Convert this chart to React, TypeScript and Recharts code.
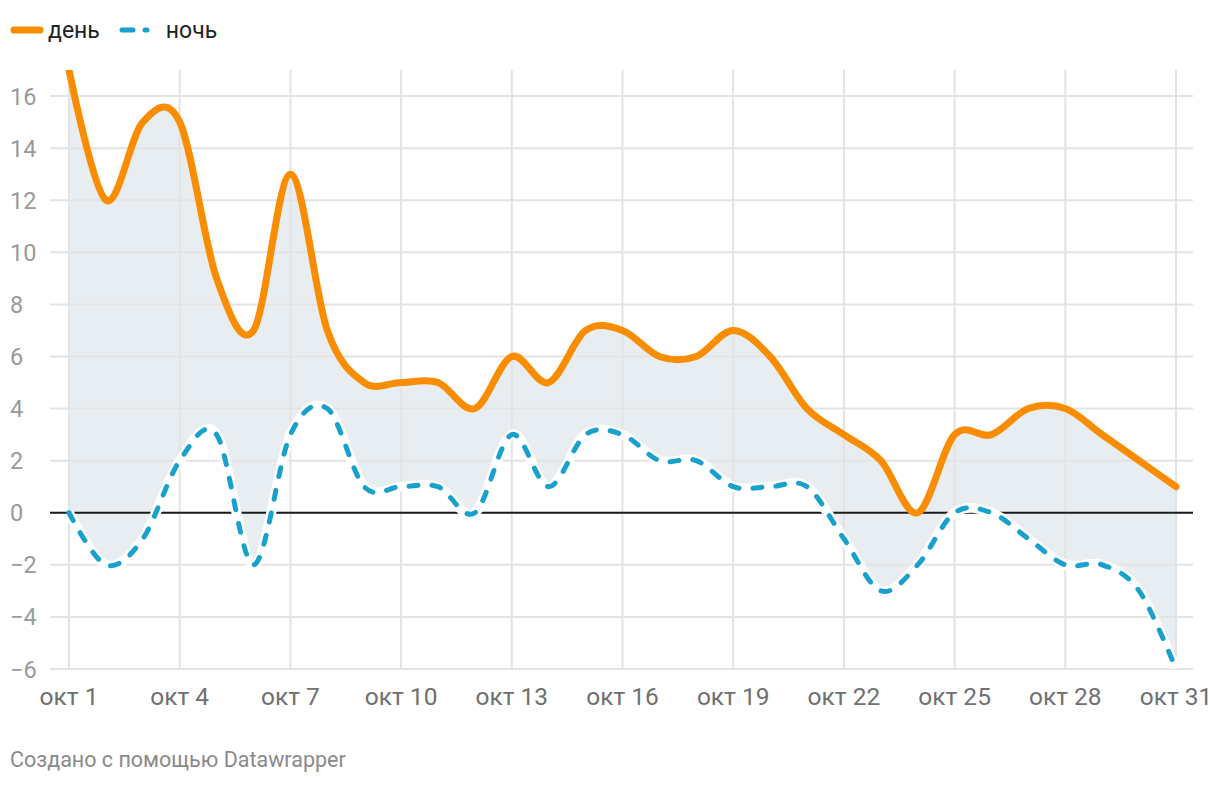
import React from "react";
import {
  Area,
  ComposedChart,
  Line,
  ReferenceLine,
  XAxis,
  YAxis,
} from "recharts";

const days = [1, 2, 3, 4, 5, 6, 7, 8, 9, 10, 11, 12, 13, 14, 15, 16, 17, 18, 19, 20, 21, 22, 23, 24, 25, 26, 27, 28, 29, 30, 31];
const dayTemps = [17, 12, 15, 15, 9, 7, 13, 7, 5, 5, 5, 4, 6, 5, 7, 7, 6, 6, 7, 6, 4, 3, 2, 0, 3, 3, 4, 4, 3, 2, 1];
const nightTemps = [0, -2, -1, 2, 3, -2, 3, 4, 1, 1, 1, 0, 3, 1, 3, 3, 2, 2, 1, 1, 1, -1, -3, -2, 0, 0, -1, -2, -2, -3, -6];
const xTicks = [1, 4, 7, 10, 13, 16, 19, 22, 25, 28, 31];
const yTicks = [-6, -4, -2, 0, 2, 4, 6, 8, 10, 12, 14, 16];

const ORANGE = "#fa8c00";
const BLUE = "#18a1cd";
const GRID = "#e3e3e3";
const FONT = "Roboto, 'Noto Sans', sans-serif";

const rows = days.map((d, i) => ({ day: d, dayT: dayTemps[i], nightT: nightTemps[i] }));

// d3-style cardinal spline (tension 0), Datawrapper draws its curves like this
class Cardinal {
  _context: any;
  _line = NaN;
  _point = 0;
  _x0 = NaN; _x1 = NaN; _x2 = NaN;
  _y0 = NaN; _y1 = NaN; _y2 = NaN;
  constructor(context: any) {
    this._context = context;
  }
  seg(x: number, y: number) {
    const k = 1 / 6;
    this._context.bezierCurveTo(
      this._x1 + k * (this._x2 - this._x0),
      this._y1 + k * (this._y2 - this._y0),
      this._x2 + k * (this._x1 - x),
      this._y2 + k * (this._y1 - y),
      this._x2,
      this._y2
    );
  }
  areaStart() { this._line = 0; }
  areaEnd() { this._line = NaN; }
  lineStart() {
    this._x0 = this._x1 = this._x2 = this._y0 = this._y1 = this._y2 = NaN;
    this._point = 0;
  }
  lineEnd() {
    switch (this._point) {
      case 2: this._context.lineTo(this._x2, this._y2); break;
      case 3: this.seg(this._x1, this._y1); break;
    }
    if (this._line || (this._line !== 0 && this._point === 1)) this._context.closePath();
    this._line = 1 - this._line;
  }
  point(x: number, y: number) {
    x = +x; y = +y;
    switch (this._point) {
      case 0:
        this._point = 1;
        if (this._line) this._context.lineTo(x, y);
        else this._context.moveTo(x, y);
        break;
      case 1:
        this._point = 2;
        this._x1 = x; this._y1 = y;
        break;
      case 2:
        this._point = 3;
        this.seg(x, y);
        break;
      default:
        this.seg(x, y);
        break;
    }
    this._x0 = this._x1; this._x1 = this._x2; this._x2 = x;
    this._y0 = this._y1; this._y1 = this._y2; this._y2 = y;
  }
}
const curveCardinal = (context: any) => new Cardinal(context);

function YTick({ y, payload }: any) {
  return (
    <text x={10} y={y} dy={8.5} textAnchor="start" fill="#9a9a9a" fontSize={23.5} fontFamily={FONT}>
      {String(payload.value).replace("-", "−")}
    </text>
  );
}

export default function App() {
  return (
    <div style={{ position: "absolute", left: 0, top: 0, width: 1220, height: 786, background: "#fff", fontFamily: FONT }}>
      <div style={{ position: "absolute", left: 10, top: 14, height: 32, display: "flex", alignItems: "center", fontSize: 23, color: "#222" }}>
        <svg width={34} height={10} style={{ marginRight: 4 }}>
          <line x1={4} y1={5} x2={30} y2={5} stroke={ORANGE} strokeWidth={7} strokeLinecap="round" />
        </svg>
        <span>день</span>
        <svg width={44} height={10} style={{ marginLeft: 19, marginRight: 3 }}>
          <line x1={3} y1={5} x2={14} y2={5} stroke={BLUE} strokeWidth={5} strokeLinecap="round" />
          <line x1={26} y1={5} x2={28} y2={5} stroke={BLUE} strokeWidth={5} strokeLinecap="round" />
        </svg>
        <span>ночь</span>
      </div>

      <div style={{ position: "absolute", left: 0, top: 0 }}>
        <ComposedChart width={1220} height={720} data={rows} margin={{ top: 70, right: 27, bottom: 11, left: 10 }}>
          <XAxis
            type="number"
            dataKey="day"
            domain={[1, 31]}
            ticks={xTicks}
            padding={{ left: 19, right: 17 }}
            tickFormatter={(v) => `окт ${v}`}
            tick={{ fontSize: 24.5, fill: "#707070", fontFamily: FONT }}
            tickLine={false}
            axisLine={false}
            tickMargin={13}
            height={40}
          />
          <YAxis
            type="number"
            domain={[-6, 17]}
            ticks={yTicks}
            tick={<YTick />}
            tickLine={false}
            axisLine={false}
            width={40}
            allowDataOverflow
          />
          {yTicks.map((t) => (
            <ReferenceLine key={`y${t}`} y={t} stroke={GRID} strokeWidth={2} />
          ))}
          {xTicks.map((t) => (
            <ReferenceLine key={`x${t}`} x={t} stroke={GRID} strokeWidth={2} />
          ))}
          <Area
            dataKey={(d: any) => [d.nightT, d.dayT]}
            type={curveCardinal as any}
            stroke="none"
            fill="#aabccb"
            fillOpacity={0.27}
            isAnimationActive={false}
            legendType="none"
          />
          <ReferenceLine y={0} stroke="#1b1b1b" strokeWidth={2} />
          <Line
            dataKey="nightT"
            type={curveCardinal as any}
            stroke="#ffffff"
            strokeWidth={10}
            dot={false}
            activeDot={false}
            isAnimationActive={false}
            legendType="none"
          />
          <Line
            dataKey="nightT"
            name="ночь"
            type={curveCardinal as any}
            stroke={BLUE}
            strokeWidth={5}
            strokeDasharray="9 14"
            strokeLinecap="round"
            dot={false}
            activeDot={false}
            isAnimationActive={false}
          />
          <Line
            dataKey="dayT"
            name="день"
            type={curveCardinal as any}
            stroke={ORANGE}
            strokeWidth={7}
            strokeLinecap="round"
            dot={false}
            activeDot={false}
            isAnimationActive={false}
          />
        </ComposedChart>
      </div>

      <div style={{ position: "absolute", left: 10, top: 747, fontSize: 21.5, color: "#8a8a8a" }}>
        Создано с помощью Datawrapper
      </div>
    </div>
  );
}
